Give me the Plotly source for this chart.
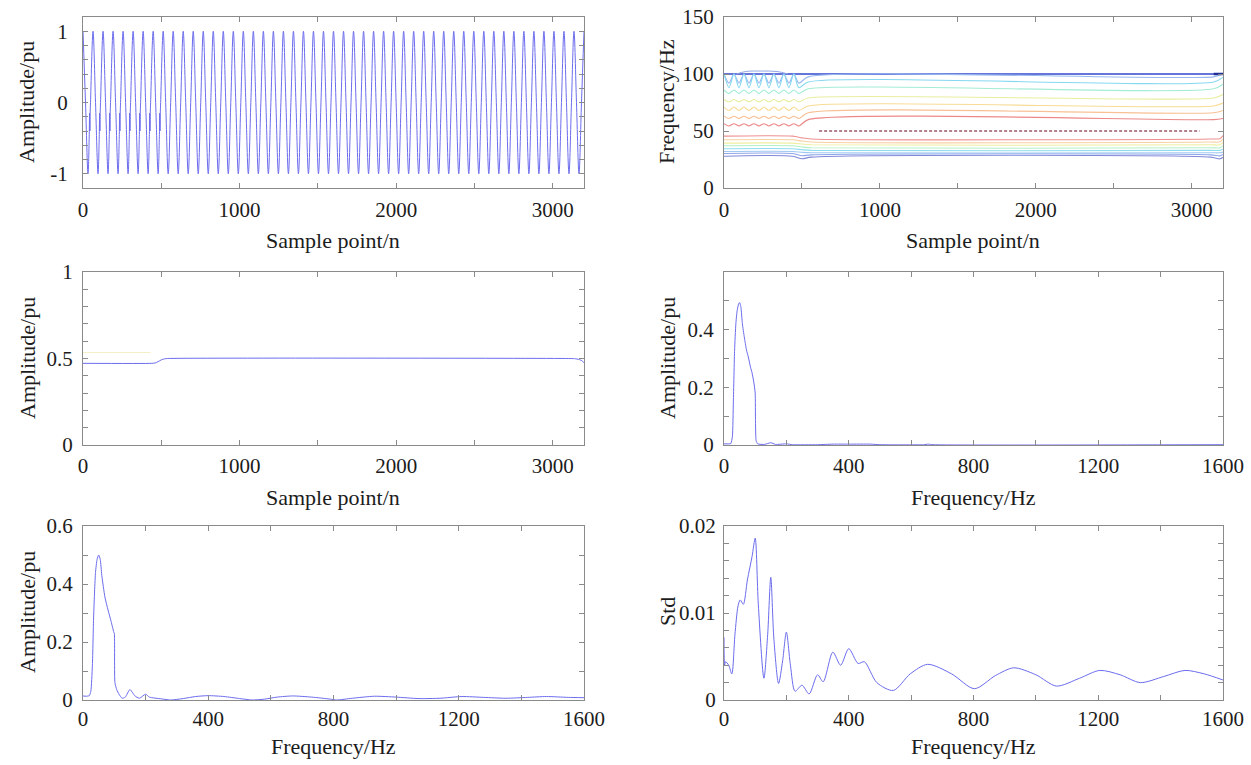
import plotly.graph_objects as go
from plotly.subplots import make_subplots

FONT = "Liberation Serif"
LINE_BLUE = "rgb(108,108,238)"
FRAME = "#8a8a8a"
TEXT = "#1c1c1c"

# ---------------- (a) time-domain waveform ----------------
# one cycle = 64 samples; knots at quarter-cycle points
total_samples = 3200
cycle_len = 64
clean_cycle_off = [0, 16, 32, 48]
clean_cycle_val = [1.0, 0.0, -1.0, 0.0]
# first cycles carry a small ripple on the rising edge
dist_cycle_off = [0, 16, 32, 40, 42, 44, 46, 48]
dist_cycle_val = [1.0, 0.0, -1.0, -0.45, -0.15, -0.40, -0.12, 0.0]
dist_cycles = 8

# ---------------- (b) time-frequency contour lines ----------------
level_colors = ["#3347cc", "#98b8f0", "#86d8f0", "#a4ecd6",
                "#e8eea0", "#f8dc96", "#f8c094", "#ec8888"]
lower_colors = ["#8088d8", "#90a6ea", "#a0c8f2", "#8edcee",
                "#b4f0c4", "#eeeea0", "#f8d0a0", "#ee9090"]
knot_step = 32            # ripple knots in the first 480 samples
ripple_end = 480
upper_pre_hi = [100.0, 100.0, 100.0, 86.0, 77.6, 71.0, 63.0, 56.4]
upper_pre_lo = [100.0, 92.0, 88.0, 83.0, 75.6, 68.0, 61.0, 54.4]
upper_post = [100.0, 97.5, 93.0, 87.0, 79.0, 72.0, 66.0, 60.0]
upper_end = [100.0, 100.0, 97.0, 91.0, 82.0, 74.5, 68.0, 61.0]
lower_pre = [27.9, 30.2, 32.0, 34.4, 37.0, 39.4, 42.3, 45.5]
lower_mid = [25.6, 28.3, 31.3, 33.6, 36.0, 38.6, 41.2, 44.0]
lower_post = [27.1, 29.1, 30.9, 33.0, 35.3, 37.9, 40.3, 43.0]
lower_late = [25.6, 28.2, 30.9, 33.0, 35.3, 38.0, 40.5, 43.3]
lower_end = [27.0, 29.5, 31.5, 34.0, 37.0, 40.0, 43.0, 46.0]
hump_n = [80, 140, 240, 340, 410]
hump_f = [100.0, 102.2, 102.6, 102.2, 100.0]
ridge_n = [610, 3050]
ridge_f = [50, 50]
edge_mark_n = [3140, 3200]
edge_mark_f = [100, 100]

# ---------------- (c) 50 Hz amplitude over time ----------------
amp_n = [0, 440, 460, 480, 500, 520, 540, 3100, 3140, 3170, 3190, 3200]
amp_v = [0.472, 0.472, 0.474, 0.482, 0.492, 0.498, 0.5, 0.5, 0.499, 0.494, 0.485, 0.475]
faint_n = [0, 430]
faint_v = [0.535, 0.535]

# ---------------- (d) amplitude spectrum ----------------
spec1_f = [0, 15, 22, 27, 30, 34, 38, 42, 47, 50, 54, 59, 65, 72, 78, 85, 90, 96, 100,
           101, 103, 108, 130, 150, 165, 200, 220, 300, 350, 400, 470, 500, 640, 655, 670, 1600]
spec1_v = [0.004, 0.004, 0.005, 0.03, 0.15, 0.33, 0.42, 0.465, 0.49, 0.494, 0.48, 0.42,
           0.375, 0.33, 0.305, 0.27, 0.25, 0.215, 0.18, 0.08, 0.015, 0.004, 0.002, 0.008,
           0.002, 0.004, 0.001, 0.001, 0.003, 0.003, 0.003, 0.001, 0.001, 0.003, 0.001, 0.001]

# ---------------- (e) amplitude spectrum ----------------
spec2_f = [0, 10, 20, 25, 30, 34, 40, 45, 50, 55, 60, 70, 80, 90, 98, 100, 102, 108, 115,
           125, 135, 150, 165, 180, 200, 212, 250, 280, 320, 360, 400, 450, 500, 540, 580,
           620, 670, 730, 790, 810, 860, 930, 1000, 1070, 1140, 1210, 1280, 1350, 1420,
           1480, 1550, 1600]
spec2_v = [0.014, 0.013, 0.015, 0.03, 0.12, 0.29, 0.44, 0.485, 0.5, 0.485, 0.43, 0.355,
           0.31, 0.27, 0.235, 0.23, 0.06, 0.035, 0.02, 0.006, 0.01, 0.036, 0.015, 0.006,
           0.02, 0.01, 0.004, 0.0, 0.005, 0.012, 0.015, 0.012, 0.005, 0.0, 0.003, 0.01,
           0.014, 0.01, 0.003, 0.0, 0.006, 0.013, 0.01, 0.005, 0.006, 0.012, 0.009, 0.006,
           0.009, 0.012, 0.009, 0.008]

# ---------------- (f) standard deviation spectrum ----------------
std_f = [0, 2, 5, 15, 25, 35, 45, 52, 62, 75, 90, 100, 110, 128, 140, 150, 160, 175,
         188, 200, 213, 228, 250, 273, 300, 318, 349, 374, 400, 430, 450, 490, 543,
         597, 653, 730, 803, 870, 929, 1000, 1066, 1140, 1205, 1270, 1335, 1410, 1478,
         1540, 1600]
std_v = [0.0072, 0.004, 0.0044, 0.004, 0.003, 0.0075, 0.0108, 0.0115, 0.011, 0.0138,
         0.0165, 0.0186, 0.011, 0.0025, 0.0075, 0.0141, 0.007, 0.0019, 0.0045, 0.0078,
         0.004, 0.001, 0.0017, 0.0007, 0.0029, 0.0021, 0.0055, 0.004, 0.0059, 0.0042,
         0.0044, 0.002, 0.0011, 0.003, 0.0041, 0.003, 0.0013, 0.0028, 0.0037, 0.0029,
         0.0016, 0.0025, 0.0034, 0.0029, 0.002, 0.0027, 0.0034, 0.003, 0.0023]


fig = make_subplots(rows=3, cols=2)

# (a) build waveform from cycle knots
wave_n, wave_v = [], []
for c in range(total_samples // cycle_len):
    offs, vals = (dist_cycle_off, dist_cycle_val) if c < dist_cycles else (clean_cycle_off, clean_cycle_val)
    for o, v in zip(offs, vals):
        wave_n.append(c * cycle_len + o)
        wave_v.append(v)
wave_n.append(total_samples)
wave_v.append(1.0)
fig.add_trace(go.Scatter(x=wave_n, y=wave_v, mode="lines",
                         line=dict(color=LINE_BLUE, width=1, shape="spline", smoothing=1.0)),
              row=1, col=1)

# (b) contour lines
for i in range(len(upper_post)):
    xs, ys = [], []
    for k in range(ripple_end // knot_step + 1):
        xs.append(k * knot_step)
        ys.append(upper_pre_hi[i] if k % 2 == 0 else upper_pre_lo[i])
    xs += [540, 3140, 3200]
    ys += [upper_post[i], upper_post[i], upper_end[i]]
    col = level_colors[i]
    fig.add_trace(go.Scatter(x=xs, y=ys, mode="lines",
                             line=dict(color=col, width=1.6 if i == 0 else 1.1,
                                       shape="spline", smoothing=0.8)),
                  row=1, col=2)
for i in range(len(lower_post)):
    xs = [0, 440, 500, 560, 3120, 3180, 3200]
    ys = [lower_pre[i], lower_pre[i], lower_mid[i], lower_post[i], lower_post[i],
          lower_late[i], lower_end[i]]
    fig.add_trace(go.Scatter(x=xs, y=ys, mode="lines",
                             line=dict(color=lower_colors[i], width=1.1,
                                       shape="spline", smoothing=0.8)),
                  row=1, col=2)
fig.add_trace(go.Scatter(x=hump_n, y=hump_f, mode="lines",
                         line=dict(color="#8fa6e6", width=1, shape="spline")), row=1, col=2)
fig.add_trace(go.Scatter(x=edge_mark_n, y=edge_mark_f, mode="lines",
                         line=dict(color="#1f2f9a", width=2.5)), row=1, col=2)
fig.add_trace(go.Scatter(x=ridge_n, y=ridge_f, mode="lines",
                         line=dict(color="#9a5866", width=1.5, dash="3px,2px")), row=1, col=2)

# (c)
fig.add_trace(go.Scatter(x=faint_n, y=faint_v, mode="lines",
                         line=dict(color="#f4efc4", width=1)), row=2, col=1)
fig.add_trace(go.Scatter(x=amp_n, y=amp_v, mode="lines",
                         line=dict(color=LINE_BLUE, width=1, shape="spline", smoothing=0.6)),
              row=2, col=1)
# (d)
fig.add_trace(go.Scatter(x=spec1_f, y=spec1_v, mode="lines",
                         line=dict(color=LINE_BLUE, width=1, shape="spline", smoothing=0.5)),
              row=2, col=2)
# (e)
fig.add_trace(go.Scatter(x=spec2_f, y=spec2_v, mode="lines",
                         line=dict(color=LINE_BLUE, width=1, shape="spline", smoothing=0.6)),
              row=3, col=1)
# (f)
fig.add_trace(go.Scatter(x=std_f, y=std_v, mode="lines",
                         line=dict(color=LINE_BLUE, width=1, shape="spline", smoothing=0.8)),
              row=3, col=2)


def axis_style(rng, tickvals, ticktext, standoff=5):
    return dict(range=rng, tickvals=tickvals, ticktext=ticktext, automargin=False,
                showline=True, linecolor=FRAME, linewidth=1, mirror="ticks",
                ticks="inside", ticklen=5, tickcolor=FRAME, tickwidth=1,
                showgrid=False, zeroline=False, ticklabelstandoff=standoff,
                tickfont=dict(family=FONT, size=21, color=TEXT))


def label_every(vals, keep):
    return [("%g" % v) if v in keep else "" for v in vals]


t_ticks = [0, 500, 1000, 1500, 2000, 2500, 3000]
t_text = label_every(t_ticks, [0, 1000, 2000, 3000])
f_ticks = list(range(0, 1601, 200))
f_text = label_every(f_ticks, [0, 400, 800, 1200, 1600])

ya_vals = [round(-1 + 0.2 * k, 1) for k in range(11)]
ya_text = ["-1" if v == -1 else ("%g" % v if v in (0, 1) else "") for v in ya_vals]
yc_vals = [round(0.1 * k, 1) for k in range(11)]
yc_text = label_every(yc_vals, [0, 0.5, 1])
yd_vals = [round(0.1 * k, 1) for k in range(7)]
yd_text = label_every(yd_vals, [0, 0.2, 0.4])
ye_text = label_every(yd_vals, [0, 0.2, 0.4, 0.6])
yf_vals = [round(0.002 * k, 3) for k in range(11)]
yf_text = label_every(yf_vals, [0, 0.01, 0.02])

W, H = 1251, 765
colx = [[83 / W, 584 / W], [724 / W, 1223 / W]]
rowy = [[1 - 188 / H, 1 - 17 / H], [1 - 445 / H, 1 - 272 / H], [1 - 700 / H, 1 - 526 / H]]

fig.update_layout(
    template="none",
    width=W, height=H, margin=dict(l=0, r=0, t=0, b=0, pad=0, autoexpand=False),
    paper_bgcolor="white", plot_bgcolor="white", showlegend=False,
    font=dict(family=FONT, color=TEXT),
    xaxis=dict(domain=colx[0], **axis_style([0, 3200], t_ticks, t_text, 3)),
    yaxis=dict(domain=rowy[0], **axis_style([-1.2, 1.2], ya_vals, ya_text, 10)),
    xaxis2=dict(domain=colx[1], **axis_style([0, 3200], t_ticks, t_text, 3)),
    yaxis2=dict(domain=rowy[0], **axis_style([0, 150], [0, 50, 100, 150], ["0", "50", "100", "150"], 5)),
    xaxis3=dict(domain=colx[0], **axis_style([0, 3200], t_ticks, t_text, 2)),
    yaxis3=dict(domain=rowy[1], **axis_style([0, 1], yc_vals, yc_text, 5)),
    xaxis4=dict(domain=colx[1], **axis_style([0, 1600], f_ticks, f_text, 2)),
    yaxis4=dict(domain=rowy[1], **axis_style([0, 0.6], yd_vals, yd_text, 5)),
    xaxis5=dict(domain=colx[0], **axis_style([0, 1600], f_ticks, f_text, 0)),
    yaxis5=dict(domain=rowy[2], **axis_style([0, 0.6], yd_vals, ye_text, 5)),
    xaxis6=dict(domain=colx[1], **axis_style([0, 1600], f_ticks, f_text, 0)),
    yaxis6=dict(domain=rowy[2], **axis_style([0, 0.02], yf_vals, yf_text, 3)),
)


def title(text, px, py, vertical=False):
    fig.add_annotation(text=text, x=px / W, y=1 - py / H, xref="paper", yref="paper",
                       showarrow=False, xanchor="center", yanchor="middle",
                       textangle=-90 if vertical else 0,
                       font=dict(family=FONT, size=22, color=TEXT))


title("Amplitude/pu", 27, 102, True)
title("Sample point/n", 333, 240)
title("Frequency/Hz", 667, 102, True)
title("Sample point/n", 973, 240)
title("Amplitude/pu", 27, 358, True)
title("Sample point/n", 333, 497)
title("Amplitude/pu", 667, 358, True)
title("Frequency/Hz", 973, 497)
title("Amplitude/pu", 27, 612, True)
title("Frequency/Hz", 333, 746)
title("Std", 667, 612, True)
title("Frequency/Hz", 973, 746)

fig.write_html("out.html")
